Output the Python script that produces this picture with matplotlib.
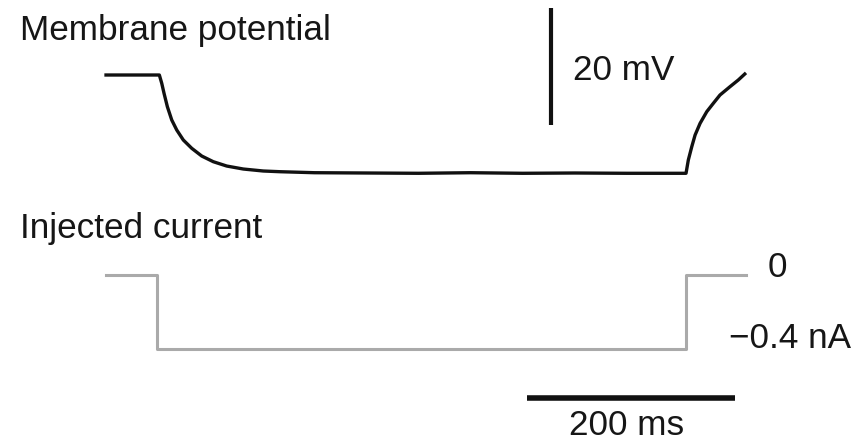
import matplotlib
matplotlib.use("Agg")
import matplotlib.pyplot as plt

# ---- data (ms, mV, nA) ----
vm_time = [0, 51.2, 53.5, 55.7, 58.9, 63.1, 67.9, 74.2, 82.3, 91.9, 103.0, 115.9, 131.8,
           151.0, 167.1, 200, 250, 300, 350, 400, 450, 500, 556.9,
           559.1, 562.4, 565.6, 570.4, 576.8, 583.1, 589.5, 599.1, 607.1, 613.3]
vm_mv = [-60, -60, -61.42, -63.13, -65.42, -67.69, -69.40, -71.11, -72.53, -73.85, -74.82,
         -75.56, -76.07, -76.41, -76.53, -76.7, -76.75, -76.8, -76.7, -76.8, -76.75,
         -76.8, -76.8, -74.53, -72.26, -70.26, -68.26, -66.27, -64.84, -63.42, -62.0,
         -60.85, -59.83]

i_time = [0, 49.4, 49.4, 556.9, 556.9, 614.5]
i_na = [0, 0, -0.4, -0.4, 0, 0]

v_bar_t = [427.7, 427.7]
v_bar_mv = [-48.55, -68.55]
t_bar_t = [404, 604]
t_bar_na = [-0.6675, -0.6675]

labels = {"vm": "Membrane potential", "i": "Injected current",
          "vscale": "20 mV", "tscale": "200 ms", "i0": "0", "i1": "\u22120.4 nA"}

W, H = 856, 443
fig = plt.figure(figsize=(W / 100, H / 100), dpi=100)
fig.patch.set_facecolor("white")

xlim = (-101.8, 720.1)
axv = fig.add_axes([0, 0, 1, 1])
axv.set_xlim(*xlim)
axv.set_ylim(-122.9, -47.18)
axv.axis("off")

axi = fig.add_axes([0, 0, 1, 1])
axi.set_xlim(*xlim)
axi.set_ylim(-0.9081, 1.486)
axi.axis("off")
axi.patch.set_alpha(0)

axv.plot(vm_time, vm_mv, color="#111111", lw=2.4, solid_joinstyle="round")
axv.plot(v_bar_t, v_bar_mv, color="#111111", lw=3.0, solid_capstyle="butt")

axi.plot(i_time, i_na, color="#aaaaaa", lw=2.2)
axi.plot(t_bar_t, t_bar_na, color="#111111", lw=4.0, solid_capstyle="butt")

fam = ["Liberation Sans", "DejaVu Sans"]
fs = 25.3
def ftext(x, y, s, ha="left", va="baseline"):
    fig.text(x / W, 1 - y / H, s, ha=ha, va=va, fontsize=fs, family=fam, color="#161616")

ftext(20, 40, labels["vm"])
ftext(20, 238, labels["i"])
ftext(573, 80, labels["vscale"])
ftext(627, 435, labels["tscale"], ha="center")
ftext(768, 277, labels["i0"])
ftext(729, 348, labels["i1"])

fig.savefig("out.png", dpi=100, facecolor="white")
